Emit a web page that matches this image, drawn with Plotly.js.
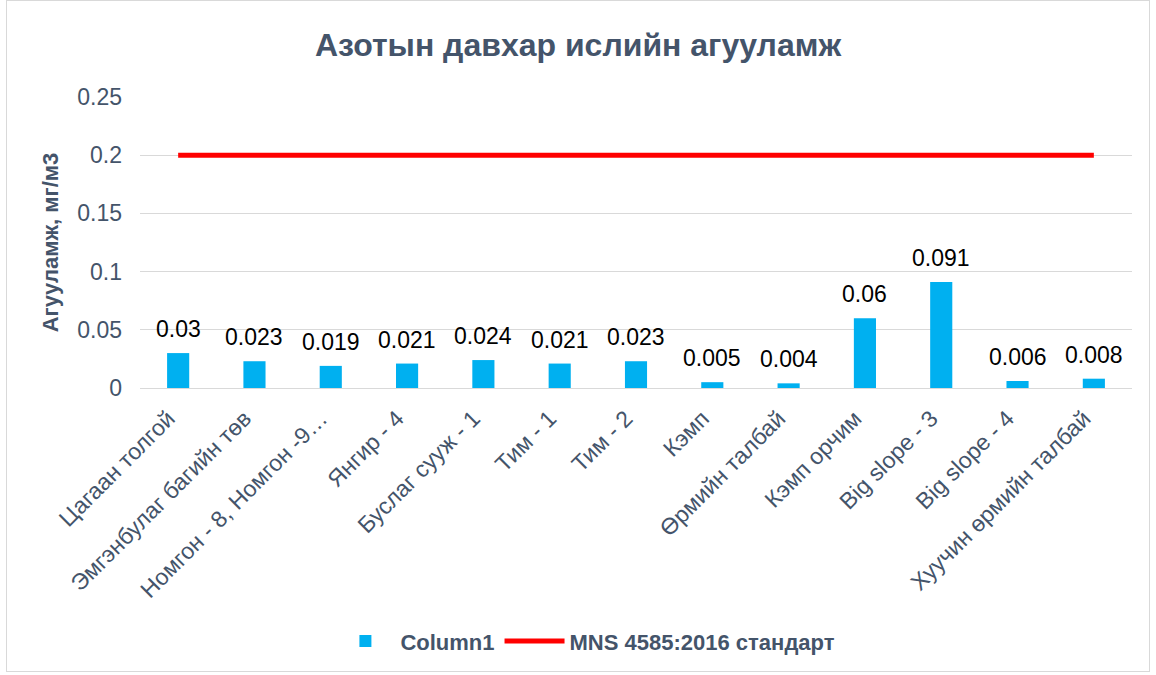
<!DOCTYPE html>
<html>
<head>
<meta charset="utf-8">
<script src="https://cdn.plot.ly/plotly-3.0.1.min.js"></script>
<style>
html,body{margin:0;padding:0;background:#fff;}
#frame{position:absolute;left:6px;top:0px;width:1144px;height:672px;border:1px solid #d9d9d9;box-sizing:border-box;}
#chart{position:absolute;left:0;top:0;width:1156px;height:675px;}
</style>
</head>
<body>
<div id="frame"></div>
<div id="chart"></div>
<script>
const categories = ["Цагаан толгой","Эмгэнбулаг багийн төв","Номгон - 8, Номгон -9…","Янгир - 4","Буслаг сууж - 1","Тим - 1","Тим - 2","Кэмп","Өрмийн талбай","Кэмп орчим","Big slope - 3","Big slope - 4","Хуучин өрмийн талбай"];
const column1 = [0.03,0.023,0.019,0.021,0.024,0.021,0.023,0.005,0.004,0.06,0.091,0.006,0.008];
const standard = [0.2,0.2,0.2,0.2,0.2,0.2,0.2,0.2,0.2,0.2,0.2,0.2,0.2];
const yTicks = [0,0.05,0.1,0.15,0.2,0.25];
const yTickLabels = ["0","0.05","0.1","0.15","0.2","0.25"];

const txt = '#44546A';
const font = 'Liberation Sans, Arial, sans-serif';

const traces = [
  {type:'bar', name:'Column1', x:categories, y:column1, marker:{color:'#00B0F0'}, width:0.29,
   hoverinfo:'x+y'},
  {type:'scatter', mode:'lines', name:'MNS 4585:2016 стандарт', x:categories, y:standard,
   line:{color:'#FF0000',width:5}}
];
const annotations = categories.map((c,i)=>({
  x:c, y:column1[i], xref:'x', yref:'y', text:String(column1[i]), showarrow:false,
  yanchor:'bottom', yshift:9, font:{family:font,size:23,color:'#000'}
}));
const layout = {
  width:1156, height:675,
  paper_bgcolor:'rgba(0,0,0,0)', plot_bgcolor:'rgba(0,0,0,0)',
  margin:{l:140,r:24,t:97,b:287},
  title:{text:'<b>Азотын давхар ислийн агууламж</b>', x:0.5, xanchor:'center', y:0.933, yanchor:'middle',
         font:{family:font,size:32,color:txt}},
  bargap:0.5,
  annotations: annotations,
  xaxis:{type:'category', tickangle:-45, tickfont:{family:font,size:23,color:txt},
         showgrid:false, showline:true, linecolor:'#d9d9d9', ticks:'', automargin:false,
         ticklabelshift:-10, ticklabelstandoff:7},
  yaxis:{range:[0,0.25], tickvals:yTicks, ticktext:yTickLabels, tickfont:{family:font,size:23,color:txt},
         showgrid:true, gridcolor:'#d9d9d9', zeroline:false, ticks:'', ticklen:0, automargin:false,
         ticklabelstandoff:17,
         title:{text:'<b>Агууламж, мг/м3</b>', font:{family:font,size:22,color:txt}, standoff:12}},
  showlegend:true,
  legend:{orientation:'h', x:0.449, xanchor:'center', y:-0.87, yanchor:'middle',
          font:{family:font,size:22,color:txt,weight:'bold'}, itemwidth:60, traceorder:'normal'}
};
Plotly.newPlot('chart', traces, layout, {displayModeBar:false});
</script>
</body>
</html>
